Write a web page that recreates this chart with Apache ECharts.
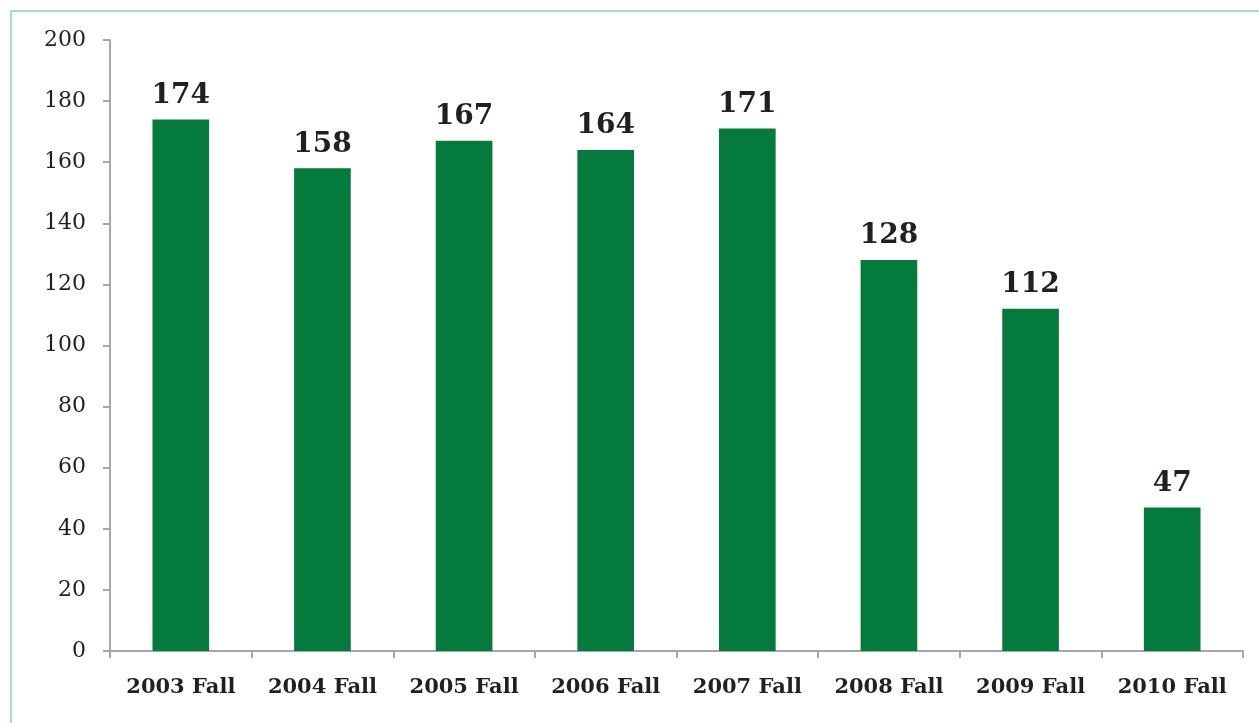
<!DOCTYPE html>
<html>
<head>
<meta charset="utf-8">
<script src="https://cdn.jsdelivr.net/npm/echarts@6/dist/echarts.min.js"></script>
<style>
html,body{margin:0;padding:0;background:#fff;}
#frame{position:absolute;left:10px;top:10px;width:1260px;height:730px;border:2px solid #a9ddc0;box-sizing:border-box;}
#chart{position:absolute;left:0;top:0;width:1259px;height:723px;}
</style>
</head>
<body>
<div id="frame"></div>
<div id="chart"></div>
<script>
const categories = ['2003 Fall','2004 Fall','2005 Fall','2006 Fall','2007 Fall','2008 Fall','2009 Fall','2010 Fall'];
const values = [174,158,167,164,171,128,112,47];
const yTicks = {min:0, max:200, interval:20};

const chart = echarts.init(document.getElementById('chart'));
const serif = 'DejaVu Serif';
chart.setOption({
  animation:false,
  grid:{left:110, right:16, top:40, bottom:72, containLabel:false},
  xAxis:{
    type:'category', data:categories,
    axisLine:{lineStyle:{color:'#a6a6a6', width:2}},
    axisTick:{show:true, interval:0, length:7, lineStyle:{color:'#a6a6a6', width:2}},
    axisLabel:{interval:0, hideOverlap:false, color:'#231f20', fontFamily:serif, fontWeight:'bold', fontSize:21, margin:26}
  },
  yAxis:{
    type:'value', min:yTicks.min, max:yTicks.max, interval:yTicks.interval,
    axisLine:{show:true, lineStyle:{color:'#a6a6a6', width:2}},
    axisTick:{show:true, length:7, lineStyle:{color:'#a6a6a6', width:2}},
    splitLine:{show:false},
    axisLabel:{color:'#231f20', fontFamily:serif, fontSize:22, margin:24}
  },
  series:[{
    type:'bar', data:values, barWidth:'40%',
    itemStyle:{color:'#047a3d'},
    label:{show:true, position:'top', distance:10, color:'#231f20', fontFamily:serif, fontWeight:'bold', fontSize:28}
  }]
});
</script>
</body>
</html>
